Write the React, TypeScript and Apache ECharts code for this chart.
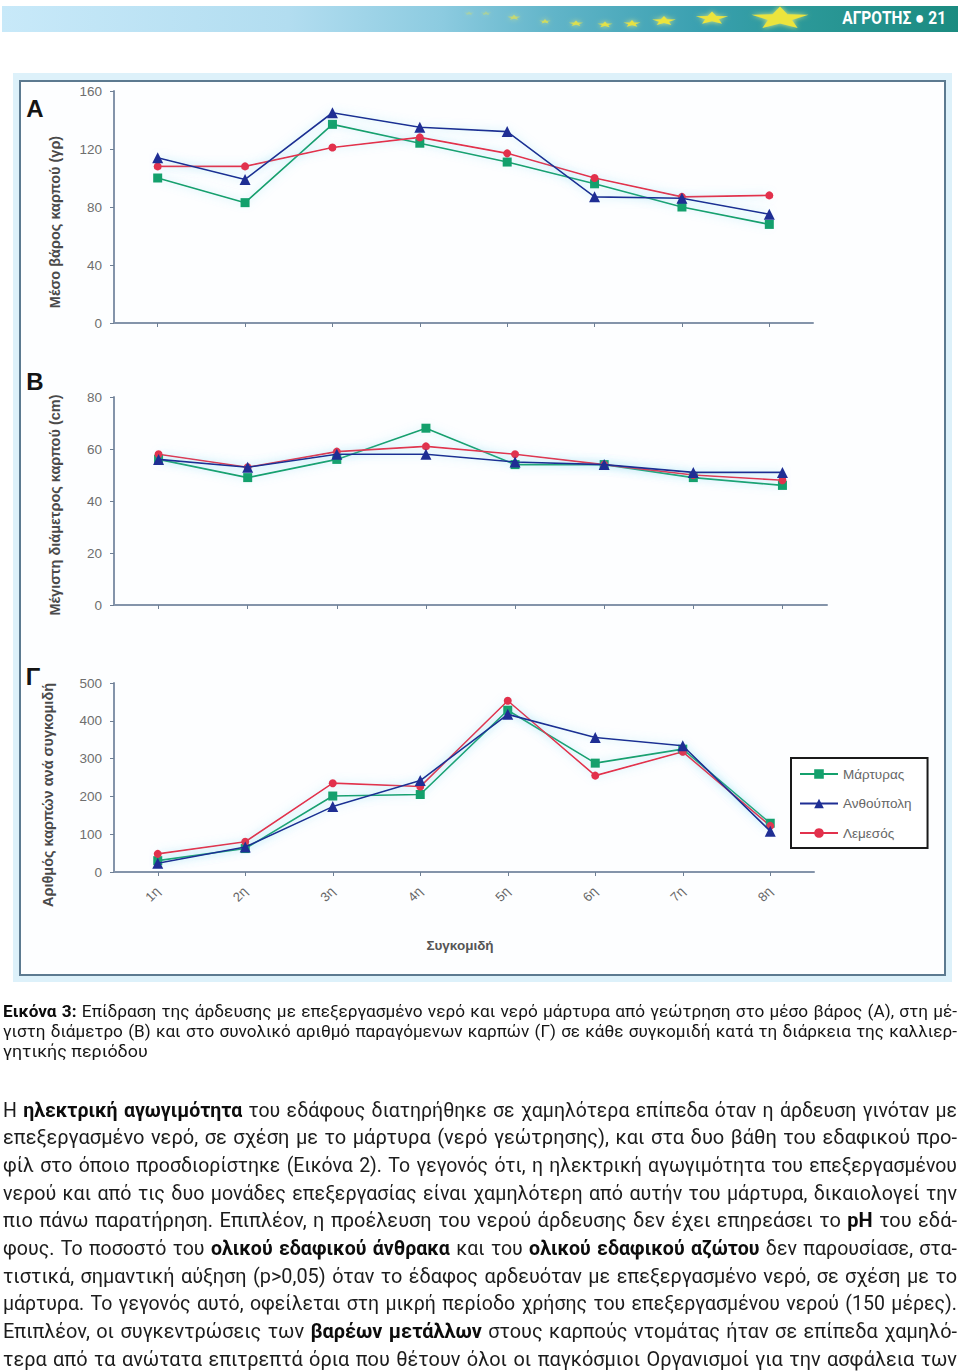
import React, { useEffect, useLayoutEffect, useRef } from 'react';
import * as echarts from 'echarts';

// ---------- data ----------
const harvests = ['1η', '2η', '3η', '4η', '5η', '6η', '7η', '8η'];
const seriesNames = ['Μάρτυρας', 'Ανθούπολη', 'Λεμεσός'];

// Panel A: mean fruit weight (g)
const weightMartyras = [100, 83, 137, 124, 111, 96, 80, 68];
const weightAnthoupoli = [114, 99, 145, 135, 132, 87, 86, 75];
const weightLemesos = [108, 108, 121, 128, 117, 100, 87, 88];

// Panel B: max fruit diameter (cm)
const diamMartyras = [56, 49, 56, 68, 54, 54, 49, 46];
const diamAnthoupoli = [56, 53, 58, 58, 55, 54, 51, 51];
const diamLemesos = [58, 53, 59, 61, 58, 54, 50, 48];

// Panel Γ: number of fruits per harvest
const countMartyras = [30, 62, 201, 205, 428, 288, 325, 129];
const countAnthoupoli = [23, 66, 173, 242, 417, 356, 334, 108];
const countLemesos = [48, 80, 235, 226, 453, 255, 318, 122];

// axis ranges [min, max, interval]
const weightAxis = [0, 160, 40];
const diamAxis = [0, 80, 20];
const countAxis = [0, 500, 100];

const yTitles = ['Μέσο βάρος καρπού (γρ)', 'Μέγιστη διάμετρος καρπού (cm)', 'Αριθμός καρπών ανά συγκομιδή'];
const panelLetters = ['A', 'B', 'Γ'];
const xTitle = 'Συγκομιδή';
const headerText = 'ΑΓΡΟΤΗΣ ● 21';

type Part = [string, boolean];
const captionLines: Part[][] = [
  [['Εικόνα 3:', true], [' Επίδραση της άρδευσης με επεξεργασμένο νερό και νερό μάρτυρα από γεώτρηση στο μέσο βάρος (Α), στη μέ-', false]],
  [['γιστη διάμετρο (Β) και στο συνολικό αριθμό παραγόμενων καρπών (Γ) σε κάθε συγκομιδή κατά τη διάρκεια της καλλιερ-', false]],
  [['γητικής περιόδου', false]],
];

const bodyLines: Part[][] = [
  [['Η ', false], ['ηλεκτρική αγωγιμότητα', true], [' του εδάφους διατηρήθηκε σε χαμηλότερα επίπεδα όταν η άρδευση γινόταν με', false]],
  [['επεξεργασμένο νερό, σε σχέση με το μάρτυρα (νερό γεώτρησης), και στα δυο βάθη του εδαφικού προ-', false]],
  [['φίλ στο όποιο προσδιορίστηκε (Εικόνα 2). Το γεγονός ότι, η ηλεκτρική αγωγιμότητα του επεξεργασμένου', false]],
  [['νερού και από τις δυο μονάδες επεξεργασίας είναι χαμηλότερη από αυτήν του μάρτυρα, δικαιολογεί την', false]],
  [['πιο πάνω παρατήρηση. Επιπλέον, η προέλευση του νερού άρδευσης δεν έχει επηρεάσει το ', false], ['pH', true], [' του εδά-', false]],
  [['φους. Το ποσοστό του ', false], ['ολικού εδαφικού άνθρακα', true], [' και του ', false], ['ολικού εδαφικού αζώτου', true], [' δεν παρουσίασε, στα-', false]],
  [['τιστικά, σημαντική αύξηση (p>0,05) όταν το έδαφος αρδευόταν με επεξεργασμένο νερό, σε σχέση με το', false]],
  [['μάρτυρα. Το γεγονός αυτό, οφείλεται στη μικρή περίοδο χρήσης του επεξεργασμένου νερού (150 μέρες).', false]],
  [['Επιπλέον, οι συγκεντρώσεις των ', false], ['βαρέων μετάλλων', true], [' στους καρπούς ντομάτας ήταν σε επίπεδα χαμηλό-', false]],
  [['τερα από τα ανώτατα επιτρεπτά όρια που θέτουν όλοι οι παγκόσμιοι Οργανισμοί για την ασφάλεια των', false]],
];

// ---------- styles ----------
const colors = ['#14a06c', '#1f2e94', '#e2314c'];
const symbols = ['rect', 'triangle', 'circle'];
const symbolSizes = [9, 11, 8];
const axisColor = '#8494aa';
const tickFont = 'Liberation Sans, Arial, sans-serif';
const textFont = 'Roboto, "Liberation Sans", sans-serif';

function starPoints(cx: number, cy: number, R: number, sy: number) {
  const pts: number[][] = [];
  for (let k = 0; k < 10; k++) {
    const r = k % 2 === 0 ? R : R * 0.42;
    const a = -Math.PI / 2 + (k * Math.PI) / 5;
    pts.push([cx + r * Math.cos(a), cy + r * Math.sin(a) * sy]);
  }
  return pts;
}

// decorative stars in header: cx, cy, R, opacity
const headerStars = [
  [469, 13, 5, 0.3], [486, 13, 5.5, 0.35], [514, 17, 7, 0.6], [545, 21, 6, 0.75],
  [576, 23, 7.5, 0.85], [605, 24, 8, 0.9], [632, 23, 9, 0.95], [664, 20, 12.5, 1],
  [712, 17, 17, 1], [780, 16, 30, 1],
];

function buildOption() {
  const panels = [
    { data: [weightMartyras, weightAnthoupoli, weightLemesos], range: weightAxis },
    { data: [diamMartyras, diamAnthoupoli, diamLemesos], range: diamAxis },
    { data: [countMartyras, countAnthoupoli, countLemesos], range: countAxis },
  ];
  const grids = [
    { left: 114, top: 91, width: 699, height: 232 },
    { left: 114, top: 397, width: 713, height: 208 },
    { left: 114, top: 683, width: 700, height: 189 },
  ];
  const series: any[] = [];
  panels.forEach((p, gi) => {
    p.data.forEach((arr, si) => {
      series.push({
        type: 'line',
        name: seriesNames[si],
        xAxisIndex: gi,
        yAxisIndex: gi,
        data: arr,
        symbol: symbols[si],
        symbolSize: symbolSizes[si],
        showSymbol: true,
        itemStyle: { color: colors[si] },
        lineStyle: { color: colors[si], width: 1.6, shadowColor: 'rgba(110,210,240,0.6)', shadowBlur: 9 },
        z: 3 + (si === 1 ? 1 : 0),
      });
    });
  });

  const graphic: any[] = [
    // header bar
    {
      type: 'rect', z: -10,
      shape: { x: 2, y: 6, width: 956, height: 26 },
      style: {
        fill: new echarts.graphic.LinearGradient(0, 0, 1, 0, [
          { offset: 0, color: '#c8e9f9' },
          { offset: 0.3, color: '#b2ddf0' },
          { offset: 0.46, color: '#8ccbe0' },
          { offset: 0.58, color: '#60b4c8' },
          { offset: 0.73, color: '#3aa0b0' },
          { offset: 0.83, color: '#2c999a' },
          { offset: 1, color: '#1b8b80' },
        ]),
      },
    },
    ...headerStars.map((s) => ({
      type: 'polygon', z: -9,
      shape: { points: starPoints(s[0], s[1] + s[2] * 0.08, s[2], 0.4) },
      style: { fill: '#ece43c', opacity: s[3], shadowColor: 'rgba(240,240,120,0.9)', shadowBlur: 5 },
    })),
    {
      type: 'text', z: -8, x: 946, y: 18, scaleX: 0.86,
      style: { text: headerText, fill: '#ffffff', fontSize: 18, fontWeight: 'bold', fontFamily: textFont, align: 'right', verticalAlign: 'middle' },
    },
    // frame
    { type: 'rect', z: -10, shape: { x: 13, y: 73, width: 939, height: 909 }, style: { fill: '#ddf1fa' } },
    { type: 'rect', z: -9, shape: { x: 20, y: 81, width: 925, height: 894 }, style: { fill: '#fdfeff', stroke: '#5c7a90', lineWidth: 2 } },
    // panel letters
    ...panelLetters.map((t, i) => ({
      type: 'text', z: 5, x: [35, 35, 33][i], y: [108, 381, 676][i],
      style: { text: t, fill: '#141414', fontSize: 24, fontWeight: 'bold', fontFamily: tickFont, align: 'center', verticalAlign: 'middle' },
    })),
    // y titles
    ...yTitles.map((t, i) => ({
      type: 'text', z: 5, x: [55, 55, 48][i], y: [222, 505, 795][i], rotation: Math.PI / 2,
      style: { text: t, fill: '#4a4a4a', fontSize: 14.5, fontWeight: 'bold', fontFamily: tickFont, align: 'center', verticalAlign: 'middle' },
    })),
    {
      type: 'text', z: 5, x: 460, y: 945,
      style: { text: xTitle, fill: '#555555', fontSize: 13.5, fontWeight: 'bold', fontFamily: tickFont, align: 'center', verticalAlign: 'middle' },
    },
  ];

  return {
    animation: false,
    backgroundColor: '#ffffff',
    grid: grids,
    legend: {
      orient: 'vertical',
      left: 791,
      top: 758,
      data: seriesNames,
      backgroundColor: '#ffffff',
      borderColor: '#1a1a1a',
      borderWidth: 2,
      borderRadius: 0,
      padding: [9, 16, 8, 8],
      itemGap: 15.5,
      itemWidth: 38,
      itemHeight: 12,
      selectedMode: false,
      textStyle: { color: '#666666', fontSize: 13.5, fontFamily: tickFont },
    },
    xAxis: [0, 1, 2].map((i) => ({
      type: 'category',
      gridIndex: i,
      data: harvests,
      boundaryGap: true,
      axisLine: { show: true, lineStyle: { color: axisColor, width: 2 } },
      axisTick: { show: true, alignWithLabel: true, length: 4, lineStyle: { color: '#6f7f94' } },
      axisLabel: i === 2
        ? { show: true, rotate: 45, margin: 17, color: '#666666', fontSize: 13, fontFamily: tickFont }
        : { show: false },
      splitLine: { show: false },
    })),
    yAxis: [weightAxis, diamAxis, countAxis].map((r, i) => ({
      type: 'value',
      gridIndex: i,
      min: r[0],
      max: r[1],
      interval: r[2],
      axisLine: { show: true, lineStyle: { color: axisColor, width: 2 } },
      axisTick: { show: true, length: 4, lineStyle: { color: '#6f7f94' } },
      axisLabel: { show: true, margin: 12, color: '#6e6e6e', fontSize: 13.5, fontFamily: tickFont },
      splitLine: { show: false },
    })),
    series,
    graphic,
  };
}

function TextLine({ parts, top, fontSize, height, justify, color, gap, plainScale }: { parts: Part[]; top: number; fontSize: number; height: number; justify: boolean; color: string; gap: number; plainScale: number }) {
  const ref = useRef<HTMLSpanElement>(null);
  const width = 954;
  useLayoutEffect(() => {
    const el = ref.current;
    if (!el) return;
    const fit = () => {
      el.style.wordSpacing = '0px';
      el.style.transform = 'none';
      const w = el.getBoundingClientRect().width;
      const spaces = ((el.textContent || '').match(/ /g) || []).length;
      if (justify && spaces > 0) {
        // widen/condense glyphs so that word gaps stay near their natural size
        const scale = (width - spaces * gap) / w;
        el.style.transform = `scaleX(${scale})`;
        el.style.wordSpacing = (width / scale - w) / spaces + 'px';
      } else {
        el.style.transform = `scaleX(${plainScale})`;
      }
    };
    fit();
    const f: any = (document as any).fonts;
    if (f && f.ready) f.ready.then(fit);
  }, []);
  return (
    <div style={{ position: 'absolute', left: 3, top: top - height / 2, width, height, lineHeight: height + 'px', whiteSpace: 'nowrap', overflow: 'visible' }}>
      <span ref={ref} style={{ display: 'inline-block', transformOrigin: '0 50%', fontFamily: textFont, fontSize, color, whiteSpace: 'pre' }}>
        {parts.map((p, i) => (
          <span key={i} style={{ fontWeight: p[1] ? 'bold' : 'normal', color: p[1] ? '#0c0c0c' : color }}>{p[0]}</span>
        ))}
      </span>
    </div>
  );
}

export default function App() {
  const ref = useRef<HTMLDivElement>(null);
  useEffect(() => {
    if (!ref.current) return;
    const chart = echarts.init(ref.current, null, { renderer: 'svg' });
    chart.setOption(buildOption() as any);
    return () => chart.dispose();
  }, []);
  const captionY = [1011, 1031, 1051];
  const bodyY = bodyLines.map((_, i) => 1110 + i * 27.7);
  return (
    <div style={{ position: 'absolute', left: 0, top: 0, width: 960, height: 1372, background: '#ffffff', overflow: 'hidden' }}>
      <div ref={ref} style={{ position: 'absolute', left: 0, top: 0, width: 960, height: 990 }} />
      {captionLines.map((l, i) => (
        <TextLine key={'c' + i} parts={l} top={captionY[i]} fontSize={17} height={20} justify={i < captionLines.length - 1} color="#151515" gap={1} plainScale={1.05} />
      ))}
      {bodyLines.map((l, i) => (
        <TextLine key={'b' + i} parts={l} top={bodyY[i]} fontSize={21} height={27} justify={true} color="#1c1c1c" gap={1.5} plainScale={1} />
      ))}
    </div>
  );
}
